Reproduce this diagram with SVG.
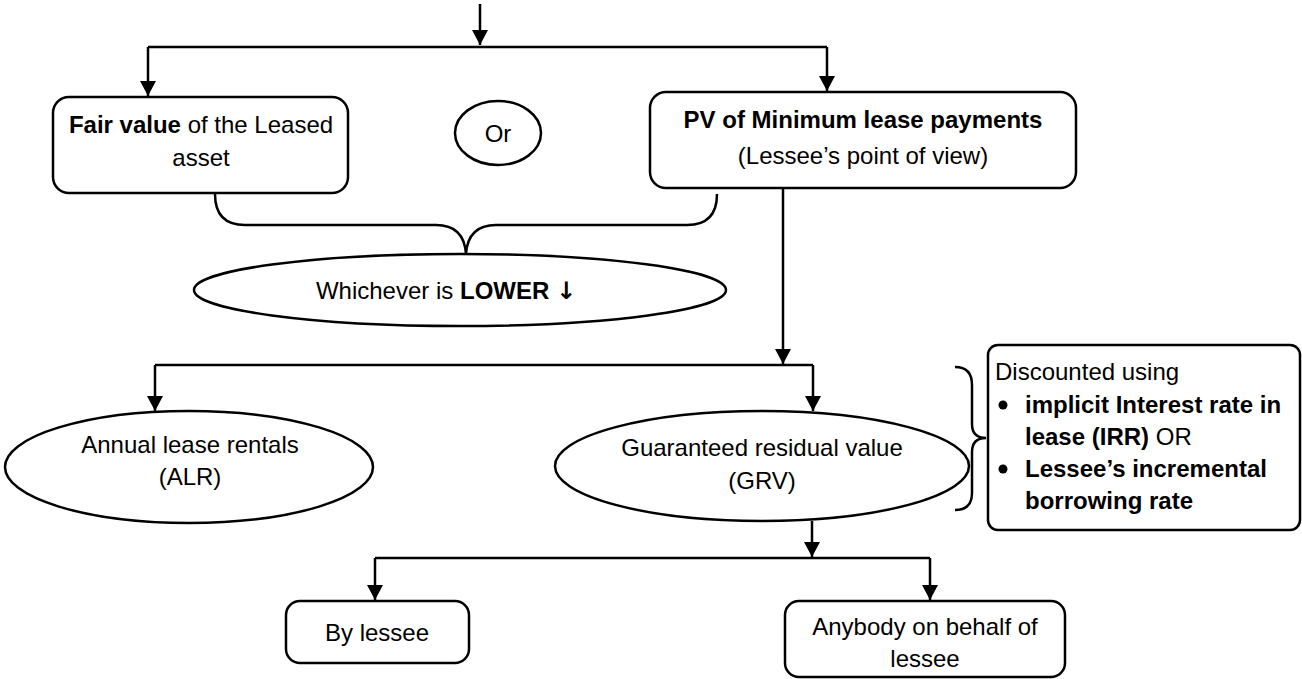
<svg xmlns="http://www.w3.org/2000/svg" width="1302" height="679" viewBox="0 0 1302 679">
<defs>
<marker id="ah" viewBox="0 0 15 16" refX="15" refY="8" markerWidth="15" markerHeight="16" orient="auto" markerUnits="userSpaceOnUse">
<path d="M0,0 L15,8 L0,16 z" fill="#000"/>
</marker>
<style>
.box{fill:#fff;stroke:#000;stroke-width:2.5}
.ln{fill:none;stroke:#000;stroke-width:2.5}
.arr{fill:none;stroke:#000;stroke-width:2.5;marker-end:url(#ah)}
text{font-family:"Liberation Sans",Arial,sans-serif;font-size:24px;fill:#000}
.c{text-anchor:middle}
.b{font-weight:bold}
.sym{font-family:"DejaVu Sans",sans-serif;font-weight:bold;fill:#000}
</style>
</defs>
<rect width="1302" height="679" fill="#fff"/>
<g id="connectors">
<line class="arr" x1="480" y1="4" x2="480" y2="45"/>
<polyline class="ln" points="148,47 827,47"/>
<line class="arr" x1="148" y1="47" x2="148" y2="96"/>
<line class="arr" x1="827" y1="47" x2="827" y2="91"/>
<path class="ln" d="M215,194 Q215,225 245,225 L436,225 Q464,225 466,254 Q468,225 496,225 L687,225 Q717,225 717,194"/>
<line class="arr" x1="783" y1="188" x2="783" y2="364"/>
<polyline class="ln" points="155,365 813,365"/>
<line class="arr" x1="155" y1="365" x2="155" y2="411"/>
<line class="arr" x1="813" y1="365" x2="813" y2="411"/>
<path class="ln" d="M955,367 Q972,367 972,385 L972,424 Q972,438 986,438 Q972,438 972,452 L972,493 Q972,510 955,510"/>
<line class="arr" x1="812" y1="521" x2="812" y2="557"/>
<polyline class="ln" points="375,558 930,558"/>
<line class="arr" x1="375" y1="558" x2="375" y2="600"/>
<line class="arr" x1="930" y1="558" x2="930" y2="600"/>
</g>
<g id="fair-value">
<rect class="box" x="53" y="97" width="295" height="96" rx="16"/>
<text class="c" x="201" y="133"><tspan class="b">Fair value</tspan> of the Leased</text>
<text class="c" x="201" y="166">asset</text>
</g>
<g id="or">
<ellipse class="box" cx="498" cy="133" rx="43" ry="32"/>
<text class="c" x="498" y="142">Or</text>
</g>
<g id="pv-mlp">
<rect class="box" x="650" y="92" width="426" height="96" rx="16"/>
<text class="c b" x="863" y="128">PV of Minimum lease payments</text>
<text class="c" x="863" y="164">(Lessee’s point of view)</text>
</g>
<g id="lower">
<ellipse class="box" cx="460" cy="290" rx="266" ry="36"/>
<text class="c" x="446" y="299">Whichever is <tspan class="b">LOWER</tspan> <tspan class="sym">↓</tspan></text>
</g>
<g id="alr">
<ellipse class="box" cx="189" cy="467" rx="184" ry="56"/>
<text class="c" x="190" y="453">Annual lease rentals</text>
<text class="c" x="190" y="485">(ALR)</text>
</g>
<g id="grv">
<ellipse class="box" cx="762" cy="466" rx="207" ry="55"/>
<text class="c" x="762" y="456">Guaranteed residual value</text>
<text class="c" x="762" y="489">(GRV)</text>
</g>
<g id="discount">
<rect class="box" x="988" y="345" width="312" height="185" rx="10"/>
<text x="995" y="380">Discounted using</text>
<circle cx="1003" cy="405" r="4.5" fill="#000"/>
<text class="b" x="1025" y="413">implicit Interest rate in</text>
<text x="1025" y="445"><tspan class="b">lease (IRR)</tspan> OR</text>
<circle cx="1003" cy="469" r="4.5" fill="#000"/>
<text class="b" x="1025" y="477">Lessee’s incremental</text>
<text class="b" x="1025" y="509">borrowing rate</text>
</g>
<g id="by-lessee">
<rect class="box" x="286" y="601" width="183" height="62" rx="14"/>
<text class="c" x="377" y="641">By lessee</text>
</g>
<g id="anybody">
<rect class="box" x="785" y="601" width="280" height="76" rx="14"/>
<text class="c" x="925" y="635">Anybody on behalf of</text>
<text class="c" x="925" y="667">lessee</text>
</g>
</svg>
